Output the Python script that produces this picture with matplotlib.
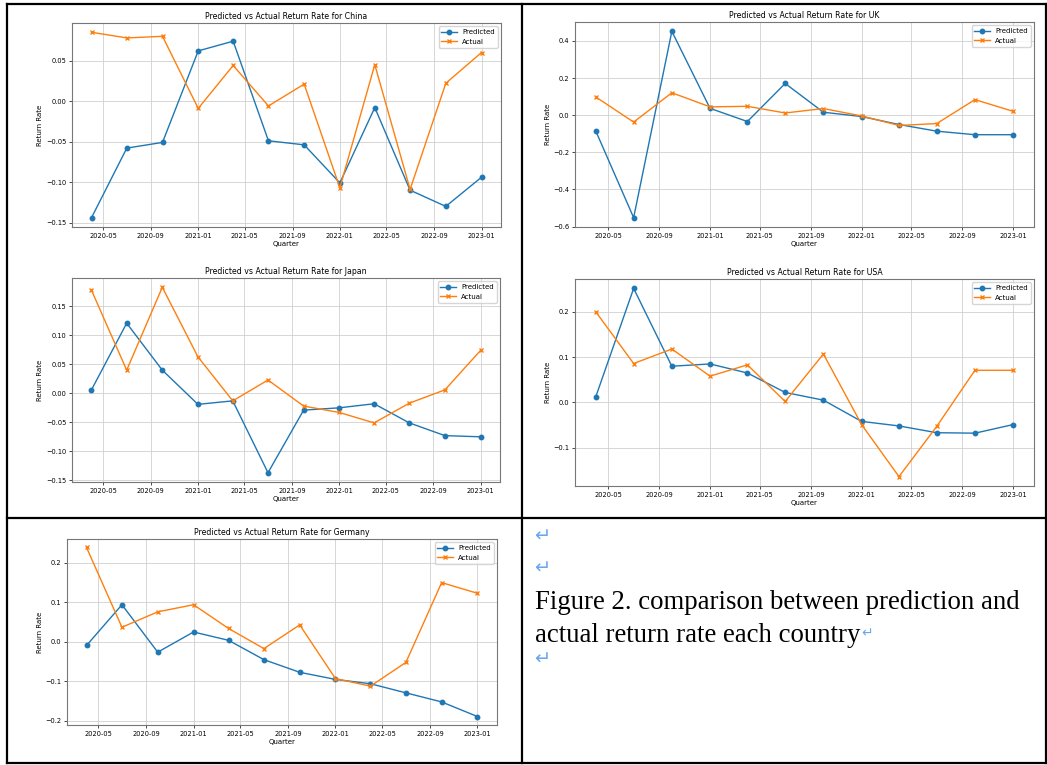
import numpy as np
import pandas as pd
import matplotlib
matplotlib.use("Agg")
import matplotlib.pyplot as plt
import matplotlib.dates as mdates
from matplotlib.lines import Line2D

W, H = 1047, 765

quarters = pd.to_datetime([
    "2020-04-01", "2020-07-01", "2020-10-01", "2021-01-01",
    "2021-04-01", "2021-07-01", "2021-10-01", "2022-01-01",
    "2022-04-01", "2022-07-01", "2022-10-01", "2023-01-01",
])

china_pred = [-0.144, -0.058, -0.051, 0.062, 0.074, -0.049, -0.054, -0.101, -0.008, -0.110, -0.130, -0.094]
china_act = [0.085, 0.078, 0.080, -0.009, 0.044, -0.006, 0.021, -0.107, 0.045, -0.109, 0.022, 0.060]

uk_pred = [-0.086, -0.552, 0.452, 0.037, -0.034, 0.171, 0.016, -0.007, -0.050, -0.086, -0.105, -0.105]
uk_act = [0.098, -0.037, 0.121, 0.045, 0.048, 0.012, 0.036, -0.004, -0.055, -0.045, 0.084, 0.021]

japan_pred = [0.006, 0.121, 0.040, -0.019, -0.013, -0.137, -0.029, -0.025, -0.018, -0.051, -0.073, -0.075]
japan_act = [0.178, 0.040, 0.183, 0.063, -0.013, 0.023, -0.022, -0.033, -0.051, -0.017, 0.006, 0.074]

usa_pred = [0.013, 0.252, 0.080, 0.085, 0.065, 0.022, 0.005, -0.042, -0.052, -0.067, -0.068, -0.049]
usa_act = [0.200, 0.086, 0.118, 0.058, 0.083, 0.002, 0.107, -0.049, -0.164, -0.053, 0.071, 0.071]

germany_pred = [-0.009, 0.094, -0.026, 0.025, 0.004, -0.045, -0.077, -0.095, -0.106, -0.129, -0.152, -0.189]
germany_act = [0.239, 0.037, 0.076, 0.094, 0.034, -0.017, 0.043, -0.093, -0.112, -0.052, 0.150, 0.123]

caption_lines = ["Figure 2. comparison between prediction and", "actual return rate each country"]


def px_rect(l, t, r, b):
    return [l / W, 1 - b / H, (r - l) / W, (b - t) / H]


def plot_country(fig, rect, name, pred, act):
    ax = fig.add_axes(px_rect(*rect))
    ax.plot(quarters, pred, marker="o", ms=3.2, lw=1, color="tab:blue", label="Predicted")
    ax.plot(quarters, act, marker="x", ms=3.2, lw=1, color="tab:orange", label="Actual")
    ax.set_title(f"Predicted vs Actual Return Rate for {name}", fontsize=5.6, pad=3)
    ax.set_xlabel("Quarter", fontsize=5, labelpad=2)
    ax.set_ylabel("Return Rate", fontsize=5, labelpad=2)
    ax.xaxis.set_major_locator(mdates.MonthLocator(bymonth=[1, 5, 9]))
    ax.xaxis.set_major_formatter(mdates.DateFormatter("%Y-%m"))
    ax.tick_params(labelsize=4.8, length=2, width=0.5, pad=2)
    ax.grid(True, color="#d0d0d0", lw=0.6)
    for s in ax.spines.values():
        s.set_color("#777777")
        s.set_linewidth(0.8)
    ax.legend(loc="upper right", fontsize=5, handlelength=2.2)
    return ax


fig = plt.figure(figsize=(W / 100, H / 100), dpi=100)

plot_country(fig, (72, 23, 501, 227), "China", china_pred, china_act)
plot_country(fig, (575, 22, 1034, 227), "UK", uk_pred, uk_act)
plot_country(fig, (72, 278, 500, 482), "Japan", japan_pred, japan_act)
plot_country(fig, (575, 279, 1034, 486), "USA", usa_pred, usa_act)
plot_country(fig, (67, 539, 497, 725), "Germany", germany_pred, germany_act)


# table borders of the document
def hline(y, x0, x1):
    fig.add_artist(Line2D([x0 / W, x1 / W], [1 - y / H, 1 - y / H], color="black", lw=1.6))


def vline(x, y0, y1):
    fig.add_artist(Line2D([x / W, x / W], [1 - y0 / H, 1 - y1 / H], color="black", lw=1.6))


hline(4, 7, 1046)
hline(518, 7, 1046)
hline(763, 7, 1046)
vline(7, 4, 763)
vline(522, 4, 763)
vline(1046, 4, 763)

mark = "\u21b5"
blue = "#6aa6f0"
for y in (536, 568, 659):
    fig.text(534 / W, 1 - y / H, mark, color=blue, fontsize=14, family="DejaVu Sans", va="center")

fig.text(535 / W, 1 - 609 / H, caption_lines[0], fontsize=19.3, family="Liberation Serif", va="baseline")
t2 = fig.text(535 / W, 1 - 642 / H, caption_lines[1], fontsize=19.3, family="Liberation Serif", va="baseline")

# return mark right after the second caption line
renderer = fig.canvas.get_renderer()
bb = t2.get_window_extent(renderer)
fig.text(bb.x1 / W + 1 / W, 1 - 633 / H, mark, color=blue, fontsize=10, family="DejaVu Sans", va="center")

fig.savefig("out.png", dpi=100)
